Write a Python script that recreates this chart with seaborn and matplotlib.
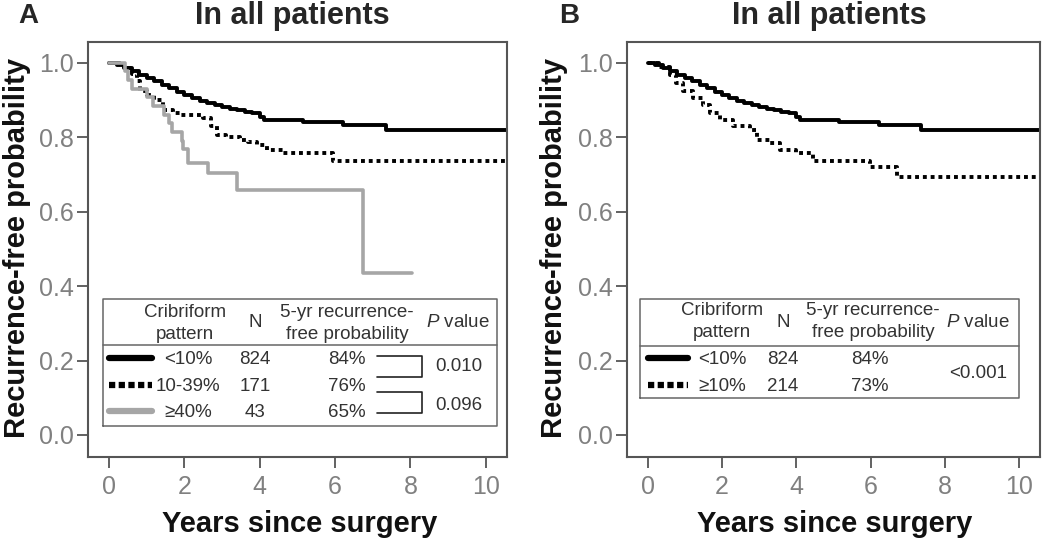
import matplotlib
matplotlib.use("Agg")
import matplotlib.pyplot as plt
import seaborn as sns
import pandas as pd

# Kaplan-Meier step curves (years, recurrence-free probability)
t_lt10 = [0, 0.2, 0.4, 0.6, 0.8, 1.0, 1.2, 1.4, 1.6, 1.8, 2.0, 2.2, 2.4, 2.6, 2.8,
          3.0, 3.2, 3.4, 3.6, 3.8, 4.0, 4.1, 5.15, 6.22, 7.35, 10.6]
s_lt10 = [1.0, 0.993, 0.986, 0.977, 0.968, 0.959, 0.950, 0.941, 0.932, 0.921, 0.912,
          0.904, 0.897, 0.891, 0.886, 0.881, 0.877, 0.873, 0.869, 0.864, 0.855,
          0.846, 0.841, 0.832, 0.820, 0.820]

t_10_39 = [0, 0.4, 0.6, 0.73, 0.82, 1.0, 1.2, 1.44, 1.7, 1.88, 2.5, 2.7, 2.86, 3.1,
           3.47, 3.7, 3.92, 4.18, 4.62, 5.95, 10.6]
s_10_39 = [1.0, 0.986, 0.97, 0.95, 0.923, 0.912, 0.9, 0.874, 0.866, 0.86, 0.851,
           0.83, 0.806, 0.80, 0.793, 0.787, 0.78, 0.766, 0.757, 0.737, 0.737]

t_ge40 = [0, 0.42, 0.5, 0.6, 1.0, 1.17, 1.45, 1.59, 1.68, 1.93, 1.97, 2.1, 2.63,
          3.39, 6.75, 8.05]
s_ge40 = [1.0, 0.977, 0.953, 0.93, 0.907, 0.884, 0.86, 0.837, 0.814, 0.791, 0.767,
          0.73, 0.703, 0.659, 0.435, 0.435]

t_ge10 = [0, 0.3, 0.59, 0.77, 0.95, 1.22, 1.49, 1.67, 1.94, 2.3, 2.75, 2.93, 3.29,
          3.56, 4.0, 4.45, 5.99, 6.7, 10.6]
s_ge10 = [1.0, 0.988, 0.968, 0.945, 0.923, 0.905, 0.887, 0.865, 0.847, 0.829, 0.82,
          0.793, 0.784, 0.766, 0.757, 0.735, 0.721, 0.694, 0.694]

# table contents
groups_a = ["<10%", "10-39%", "≥40%"]
n_a = ["824", "171", "43"]
prob_a = ["84%", "76%", "65%"]
pvals_a = ["0.010", "0.096"]

groups_b = ["<10%", "≥10%"]
n_b = ["824", "214"]
prob_b = ["84%", "73%"]
pval_b = "<0.001"

x_ticks = [0, 2, 4, 6, 8, 10]
y_ticks = [0.0, 0.2, 0.4, 0.6, 0.8, 1.0]

sns.set_style("ticks")
plt.rcParams["font.family"] = ["Liberation Sans", "DejaVu Sans"]
plt.rcParams["mathtext.fontset"] = "custom"
plt.rcParams["mathtext.rm"] = "Liberation Sans"
plt.rcParams["mathtext.it"] = "Liberation Sans:italic"

SOLID = dict(color="black", lw=2.8, ls="-")
DOTS = dict(color="black", lw=2.8, ls=(0, (1, 1)))
GRAY = dict(color="#a6a6a6", lw=2.6, ls="-")
TXT = "#333333"
FS = 13.5

fig = plt.figure(figsize=(10.5, 5.44), dpi=100)
ax1 = fig.add_axes([0.0838, 0.160, 0.399, 0.763])
ax2 = fig.add_axes([0.5971, 0.160, 0.3933, 0.763])


def km(ax, t, s, style):
    df = pd.DataFrame({"time": t, "surv": s})
    sns.lineplot(data=df, x="time", y="surv", ax=ax, estimator=None, sort=True,
                 drawstyle="steps-post", legend=False, **style)


km(ax1, t_lt10, s_lt10, SOLID)
km(ax1, t_10_39, s_10_39, DOTS)
km(ax1, t_ge40, s_ge40, GRAY)
km(ax2, t_lt10, s_lt10, SOLID)
km(ax2, t_ge10, s_ge10, DOTS)

for ax in (ax1, ax2):
    ax.set_xlim(-0.56, 10.56)
    ax.set_ylim(-0.059, 1.056)
    ax.set_xticks(x_ticks)
    ax.set_yticks(y_ticks)
    ax.set_yticklabels([f"{v:.1f}" for v in y_ticks])
    ax.set_xlabel("")
    ax.set_ylabel("")
    ax.tick_params(labelsize=18, labelcolor="#808080", color="#555555",
                   length=8, width=1.3, pad=2)
    ax.tick_params(axis="x", pad=5)
    for sp in ax.spines.values():
        sp.set_visible(True)
        sp.set_color("#555555")
        sp.set_linewidth(1.5)


def box(ax, x0, x1, y0, y1, ysep):
    tr = ax.transAxes
    ax.plot([x0, x1, x1, x0, x0], [y0, y0, y1, y1, y0], transform=tr,
            color="#666666", lw=1.1, clip_on=False)
    ax.plot([x0, x1], [ysep, ysep], transform=tr, color="#666666", lw=1.1)


def header(ax, xc, xn, xp, xpv, ytop, ybot, ymid):
    kw = dict(transform=ax.transAxes, ha="center", va="center", fontsize=FS, color=TXT)
    ax.text(xc, ytop, "Cribriform", **kw)
    ax.text(xc, ybot, "pattern", **kw)
    ax.text(xn, ymid, "N", **kw)
    ax.text(xp, ytop, "5-yr recurrence-", **kw)
    ax.text(xp, ybot, "free probability", **kw)
    ax.text(xpv, ymid, r"$\mathit{P}$ value", **kw)


# ---- panel A table
box(ax1, 0.036, 0.976, 0.075, 0.381, 0.27)
header(ax1, 0.2315, 0.399, 0.618, 0.883, 0.347, 0.296, 0.323)
rows_a = [0.234, 0.169, 0.106]
styles_a = [dict(color="black", lw=4.5, ls="-"),
            dict(color="black", lw=4.5, ls=(0, (1, 0.55))),
            dict(color="#a6a6a6", lw=4.5, ls="-")]
kw = dict(transform=ax1.transAxes, ha="center", va="center", fontsize=FS, color=TXT)
for y, g, n, p, st in zip(rows_a, groups_a, n_a, prob_a, styles_a):
    ax1.plot([0.050, 0.153], [y + 0.004, y + 0.004], transform=ax1.transAxes, **st)
    ax1.text(0.239, y, g, **kw)
    ax1.text(0.399, y, n, **kw)
    ax1.text(0.618, y, p, **kw)
for (ya, yb), pv in zip([(0.243, 0.193), (0.157, 0.106)], pvals_a):
    ax1.plot([0.690, 0.797, 0.797, 0.690], [ya, ya, yb, yb], transform=ax1.transAxes,
             color="#222222", lw=1.2)
ax1.text(0.885, 0.219, pvals_a[0], **kw)
ax1.text(0.885, 0.123, pvals_a[1], **kw)

# ---- panel B table
box(ax2, 0.031, 0.949, 0.142, 0.381, 0.267)
header(ax2, 0.230, 0.378, 0.596, 0.850, 0.352, 0.299, 0.323)
rows_b = [0.234, 0.169]
styles_b = styles_a[:2]
kw = dict(transform=ax2.transAxes, ha="center", va="center", fontsize=FS, color=TXT)
for y, g, n, p, st in zip(rows_b, groups_b, n_b, prob_b, styles_b):
    ax2.plot([0.051, 0.148], [y + 0.004, y + 0.004], transform=ax2.transAxes, **st)
    ax2.text(0.230, y, g, **kw)
    ax2.text(0.378, y, n, **kw)
    ax2.text(0.588, y, p, **kw)
ax2.text(0.850, 0.202, pval_b, **kw)

# ---- titles, panel letters, axis labels
for xl, xt, xy, xx, letter in [(0.0267, 0.278, 0.0162, 0.285, "A"),
                               (0.542, 0.790, 0.5276, 0.795, "B")]:
    fig.text(xl, 0.971, letter, ha="center", va="center", fontsize=20, fontweight="bold")
    fig.text(xt, 0.971, "In all patients", ha="center", va="center", fontsize=22,
             fontweight="bold")
    fig.text(xy, 0.544, "Recurrence-free probability", ha="center", va="center",
             rotation=90, fontsize=21, fontweight="bold", color="#111111")
    fig.text(xx, 0.036, "Years since surgery", ha="center", va="center", fontsize=21,
             fontweight="bold", color="#111111")

fig.savefig("out.png", dpi=100)
